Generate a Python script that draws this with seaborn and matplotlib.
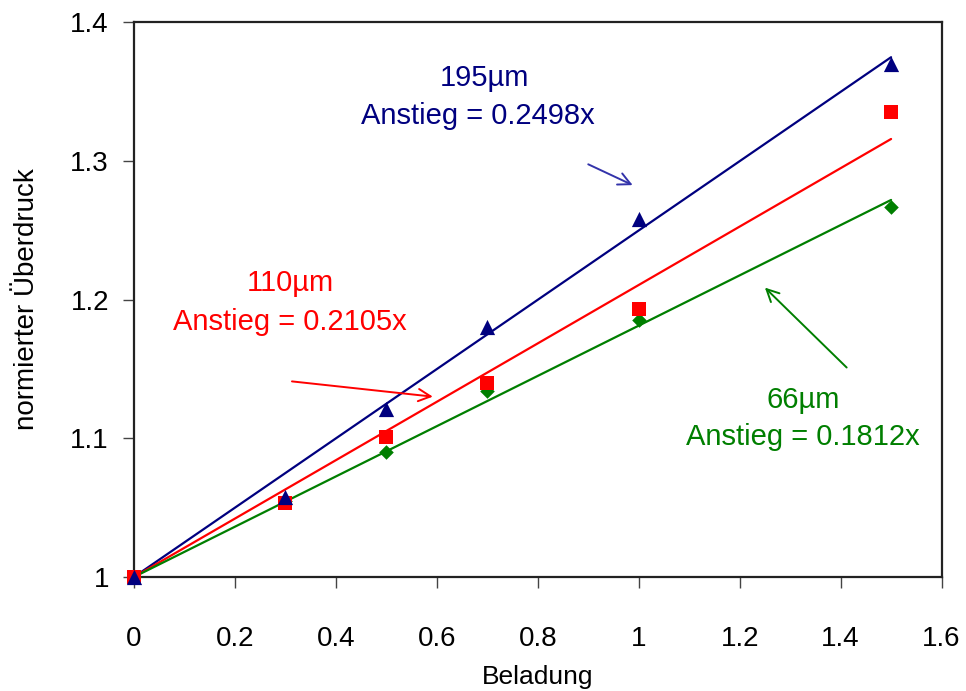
import numpy as np
import pandas as pd
import matplotlib
matplotlib.use("Agg")
import matplotlib.pyplot as plt
import seaborn as sns

# Measurements: loading vs. normalised overpressure for three particle sizes
beladung = [0.0, 0.3, 0.5, 0.7, 1.0, 1.5]
p_195 = [1.0, 1.058, 1.121, 1.180, 1.258, 1.370]
p_110 = [1.0, 1.053, 1.101, 1.140, 1.193, 1.335]
p_66 = [1.0, 1.055, 1.090, 1.134, 1.185, 1.267]

groups = ["195µm", "110µm", "66µm"]
slopes = [0.2498, 0.2105, 0.1812]
colors = ["#00007f", "#ff0000", "#007f00"]
markers = ["^", "s", "D"]
marker_sizes = [120, 100, 55]

xticks = [0, 0.2, 0.4, 0.6, 0.8, 1, 1.2, 1.4, 1.6]
yticks = [1, 1.1, 1.2, 1.3, 1.4]

sns.set_theme(style="white")
plt.rcParams["font.family"] = ["Liberation Sans", "DejaVu Sans"]
plt.rcParams["text.color"] = "black"
plt.rcParams["axes.labelcolor"] = "black"
plt.rcParams["xtick.color"] = "black"
plt.rcParams["ytick.color"] = "black"

df = pd.DataFrame({
    "Beladung": beladung * 3,
    "p": p_195 + p_110 + p_66,
    "Probe": np.repeat(groups, len(beladung)),
})

# Linear fits through the origin point (0, 1)
fit_x = [0.0, 1.5]
fit = pd.DataFrame({
    "Beladung": fit_x * 3,
    "p": [1 + s * x for s in slopes for x in fit_x],
    "Probe": np.repeat(groups, len(fit_x)),
})

fig = plt.figure(figsize=(9.66, 6.91), dpi=100)
ax = fig.add_axes([0.1387, 0.165, 0.836, 0.803])

palette = dict(zip(groups, colors))
sns.lineplot(data=fit, x="Beladung", y="p", hue="Probe", palette=palette,
             linewidth=1.6, legend=False, ax=ax)
# draw order: diamonds, squares, triangles on top
for g, m, s in list(zip(groups, markers, marker_sizes))[::-1]:
    sub = df[df["Probe"] == g]
    sns.scatterplot(data=sub, x="Beladung", y="p", color=palette[g], marker=m,
                    s=s, linewidth=0, legend=False, ax=ax, zorder=3, clip_on=False)

ax.set_xlim(0, 1.6)
ax.set_ylim(1, 1.4)
ax.set_xticks(xticks)
ax.set_xticklabels([f"{t:g}" for t in xticks])
ax.set_yticks(yticks)
ax.set_yticklabels([f"{t:g}" for t in yticks])
ax.tick_params(axis="x", direction="out", length=8, width=1, pad=27,
               labelsize=20, color="#444444", bottom=True)
ax.tick_params(axis="y", direction="out", length=8, width=1, pad=10,
               labelsize=20, color="#444444", left=True)
for sp in ax.spines.values():
    sp.set_visible(True)
    sp.set_color("#222222")
    sp.set_linewidth(1.6)
ax.set_xlabel("Beladung", fontsize=19, labelpad=10)
ax.set_ylabel("normierter Überdruck", fontsize=20, labelpad=22)

# Slope annotations with arrows
ann = [
    ("195µm", (0.695, 1.3597), (0.681, 1.3324), (0.900, 1.2975), (0.988, 1.2825), "#00007f", "#3333aa"),
    ("110µm", (0.309, 1.2122), (0.309, 1.1835), (0.313, 1.1410), (0.592, 1.1300), "#ff0000", "#ff0000"),
    ("66µm", (1.325, 1.1273), (1.325, 1.1007), (1.412, 1.1510), (1.250, 1.2086), "#007f00", "#007f00"),
]
for (name, p1, p2, tail, head, tc, ac), s in zip(ann, slopes):
    ax.text(*p1, name, color=tc, fontsize=21, ha="center", va="center")
    ax.text(*p2, f"Anstieg = {s:.4f}x", color=tc, fontsize=21, ha="center", va="center")
    ax.annotate("", xy=head, xytext=tail,
                arrowprops=dict(arrowstyle="->", color=ac, lw=1.4,
                                mutation_scale=22, shrinkA=0, shrinkB=0))

fig.savefig("out.png", dpi=100)
